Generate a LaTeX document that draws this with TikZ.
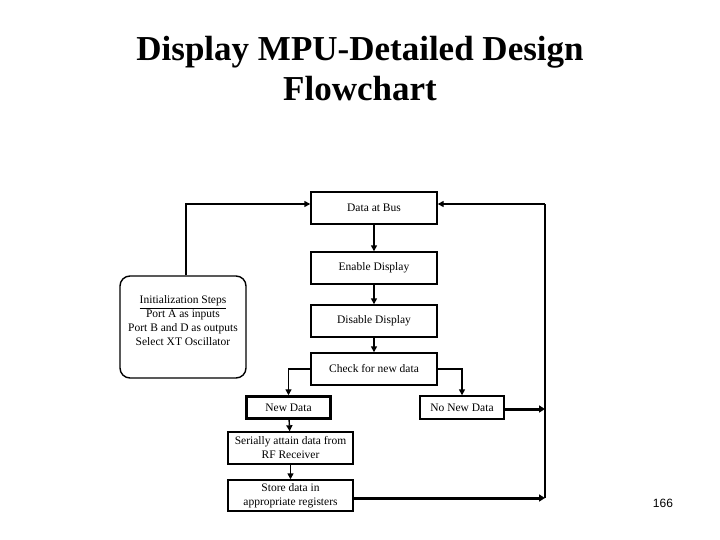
\documentclass[tikz,border=0pt]{standalone}
\usepackage{fontspec}
\setmainfont{Liberation Serif}
\newfontfamily\numfont{Liberation Sans}
\usetikzlibrary{arrows.meta}
\begin{document}
\begin{tikzpicture}[x=1pt,y=-1pt,
  box/.style={draw,line width=1.4pt,inner sep=0pt,font=\fontsize{11.5}{14}\selectfont,align=center},
  conn/.style={line width=1.4pt,-{Triangle[length=6pt,width=6pt]}},
  thick conn/.style={line width=3pt,-{Triangle[length=6pt,width=7pt]}}]
\useasboundingbox (0,0) rectangle (720,540);
\node[font=\fontsize{35}{40}\selectfont\bfseries,align=center] (title) at (360,69) {Display MPU-Detailed Design\\Flowchart};
\node[box,minimum width=126pt,minimum height=32pt] (bus) at (374,208) {Data at Bus};
\node[box,minimum width=126pt,minimum height=32pt] (en) at (374,268) {Enable Display};
\node[box,minimum width=126pt,minimum height=32pt] (dis) at (374,321) {Disable Display};
\node[box,minimum width=126pt,minimum height=32pt] (chk) at (374,369) {Check for new data};
\node[box,line width=2.5pt,minimum width=84pt,minimum height=22pt] (new) at (288.5,407.5) {New Data};
\node[box,minimum width=84pt,minimum height=23pt] (no) at (462,407.5) {No New Data};
\node[box,minimum width=125pt,minimum height=32pt] (ser) at (290.5,448) {Serially attain data from\\RF Receiver};
\node[box,minimum width=125pt,minimum height=31pt] (sto) at (290.5,495.5) {Store data in\\appropriate registers};
\node[box,rounded corners=10pt,minimum width=126pt,minimum height=102pt] (init) at (183,327) {};
\node[font=\fontsize{11.5}{14}\selectfont,align=center] (inittxt) at (183,321) {\underline{Initialization Steps}\\Port A as inputs\\Port B and D as outputs\\Select XT Oscillator};
\coordinate (tl) at (186,204);
\coordinate (tr) at (545,204);
\coordinate (rn) at (545,409);
\coordinate (rs) at (545,498);
\draw[conn] (init.north -| tl) -- (tl) -- (bus.west |- tl);
\draw[line width=1.4pt] (rs) -- (tr);
\draw[conn] (tr) -- (bus.east |- tr);
\draw[conn] (bus) -- (en);
\draw[conn] (en) -- (dis);
\draw[conn] (dis) -- (chk);
\draw[conn] (chk.west) -| (new.north);
\draw[conn] (chk.east) -| (no.north);
\draw[conn] (new) -- (ser);
\draw[conn] (ser) -- (sto);
\draw[thick conn] (no.east |- rn) -- (rn);
\draw[thick conn] (sto.east |- rs) -- (rs);
\node[font=\numfont\fontsize{12}{14}\selectfont] (pg) at (663,503) {166};
\end{tikzpicture}
\end{document}
